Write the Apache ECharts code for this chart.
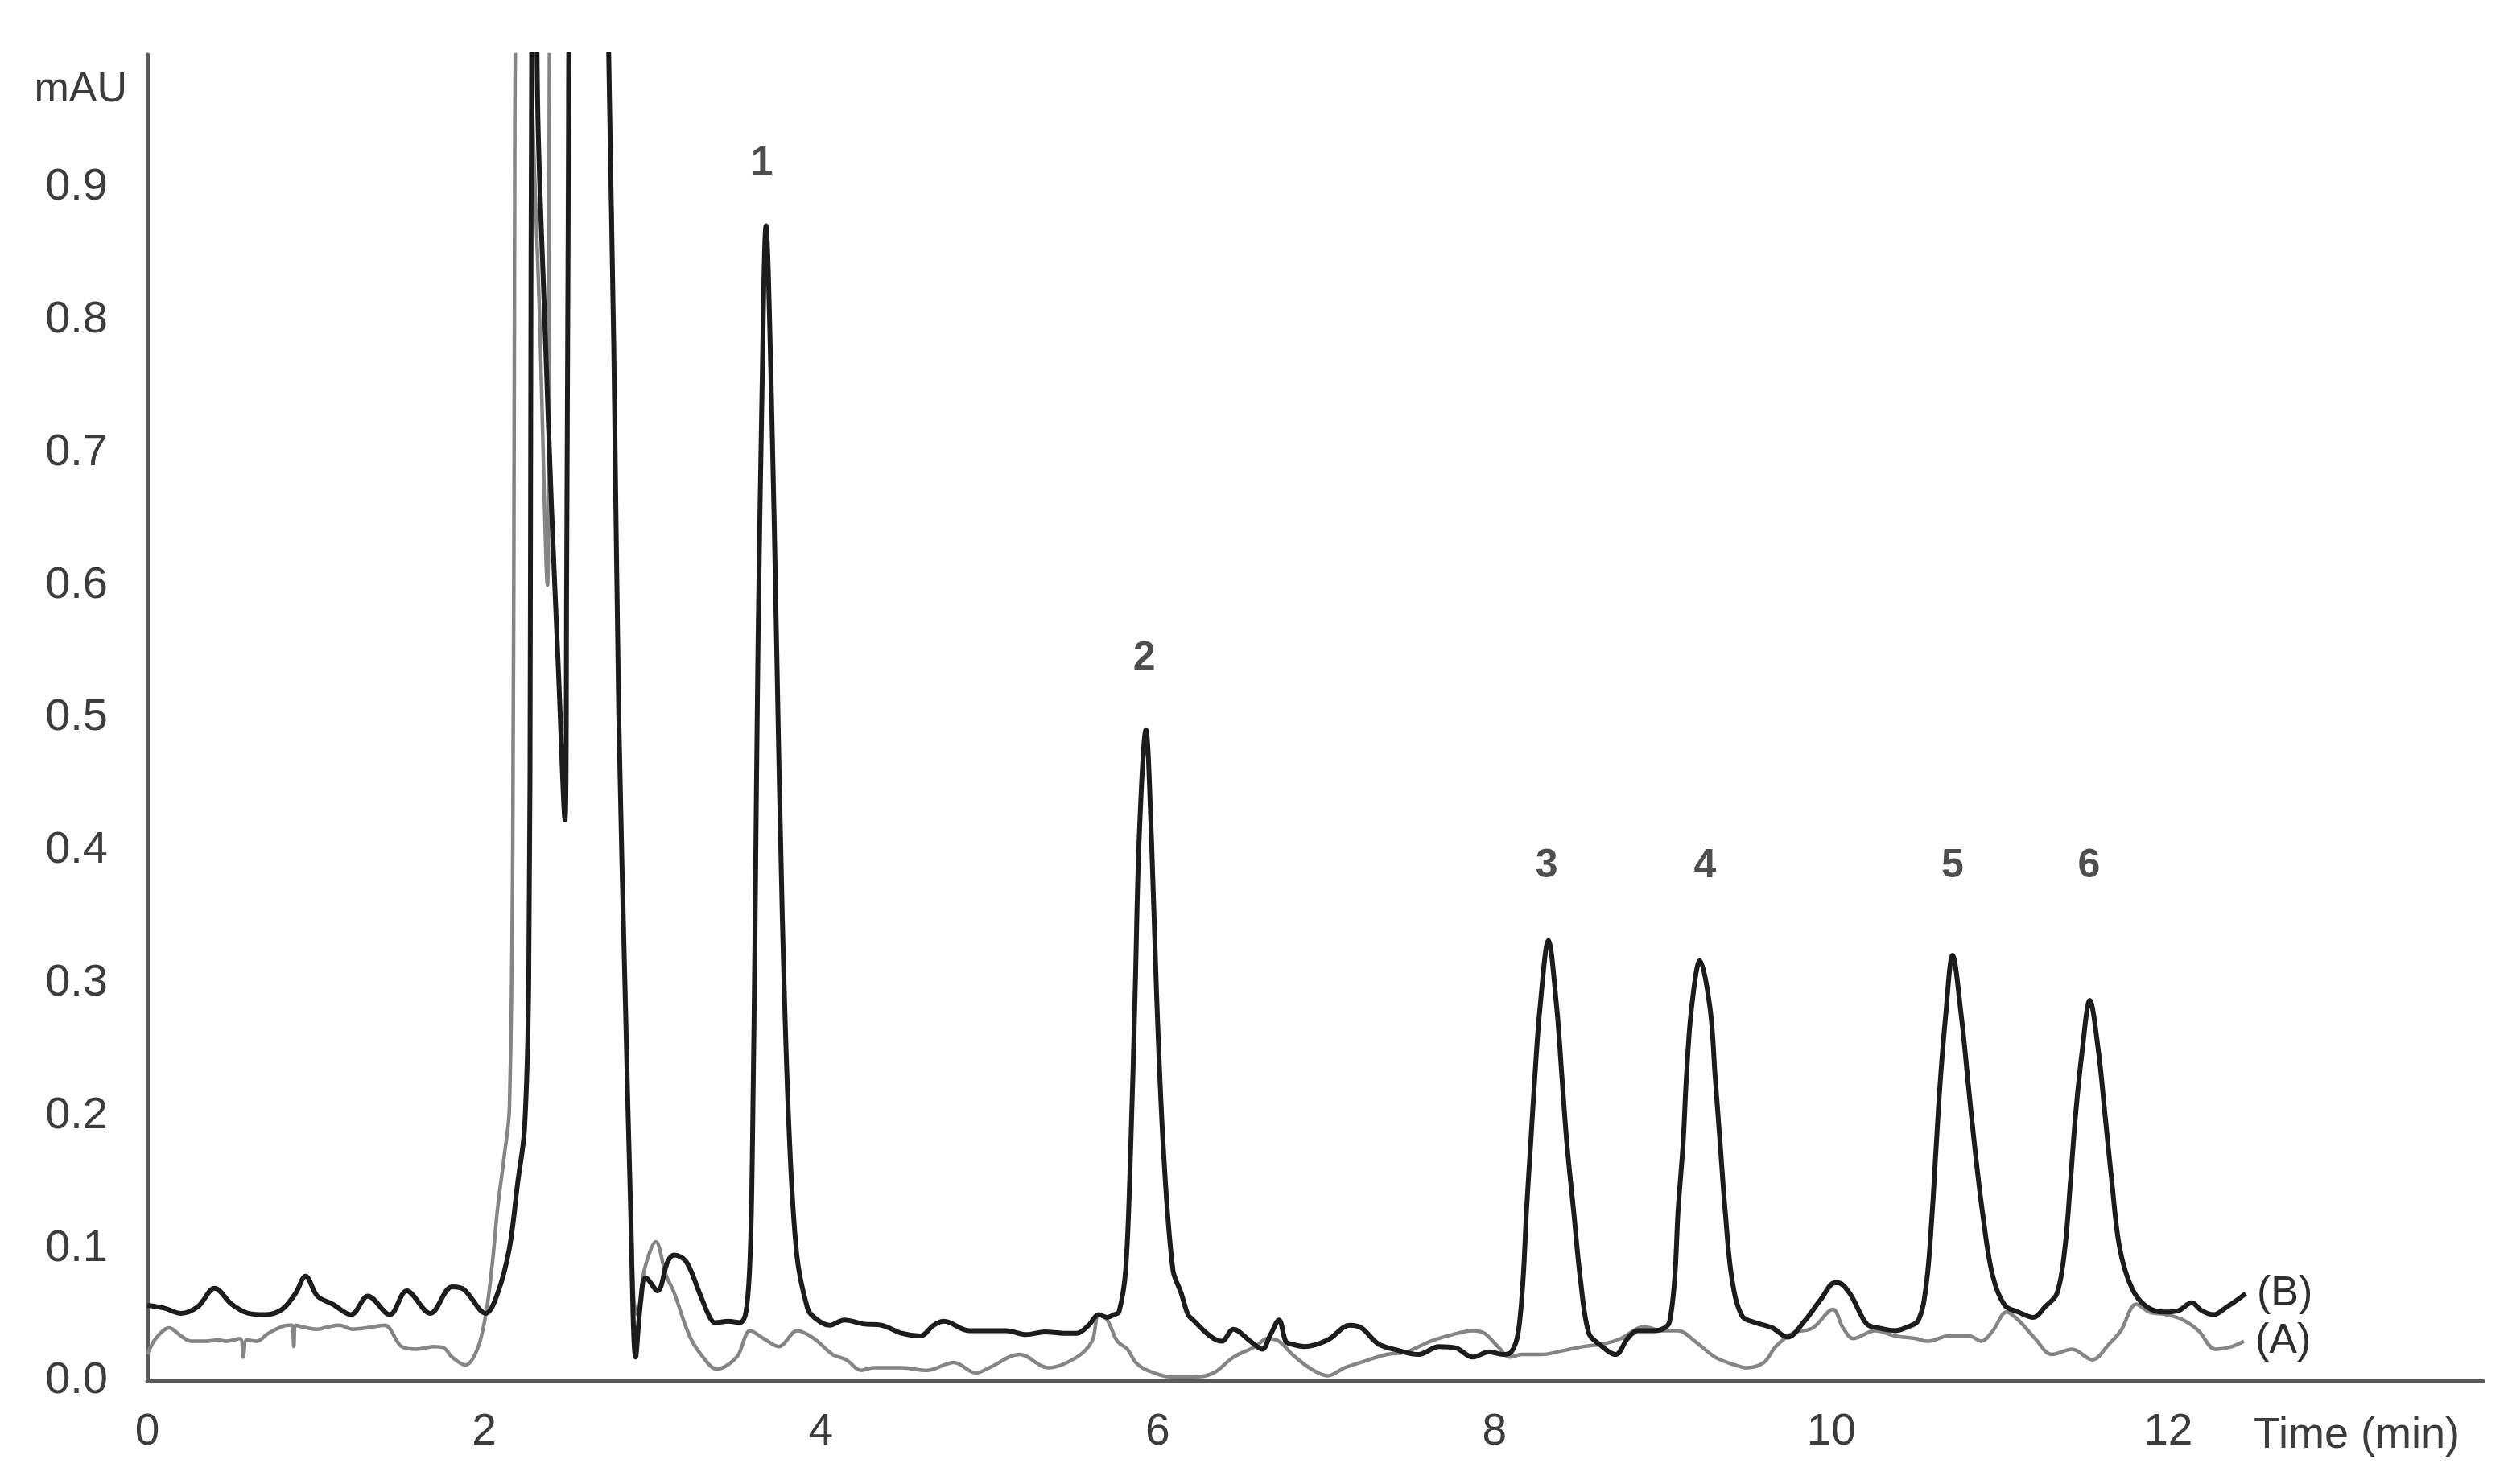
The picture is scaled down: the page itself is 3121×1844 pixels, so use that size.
<!DOCTYPE html>
<html>
<head>
<meta charset="utf-8">
<script src="https://cdn.jsdelivr.net/npm/echarts@6/dist/echarts.min.js"></script>
<style>
html,body{margin:0;padding:0;background:#fff;}
#chart{width:3121px;height:1844px;}
</style>
</head>
<body>
<div id="chart"></div>
<script>
// ---- Data (time in min, absorbance in mAU) ----
const seriesB_time = [0.00,0.10,0.20,0.30,0.40,0.50,0.60,0.70,0.80,0.88,0.94,1.01,1.10,1.21,1.31,1.44,1.54,1.68,1.81,1.88,2.01,2.08,2.15,2.20,2.24,2.265,2.275,2.285,2.30,2.32,2.36,2.40,2.44,2.48,2.49,2.50,2.51,2.60,2.72,2.74,2.77,2.80,2.84,2.87,2.90,2.93,2.96,3.03,3.09,3.13,3.20,3.28,3.34,3.37,3.45,3.52,3.555,3.58,3.595,3.61,3.626,3.65,3.674,3.706,3.738,3.77,3.81,3.857,3.92,3.96,4.05,4.14,4.25,4.36,4.48,4.59,4.67,4.73,4.88,5.00,5.10,5.22,5.33,5.44,5.52,5.59,5.65,5.70,5.74,5.77,5.81,5.84,5.866,5.89,5.93,5.963,5.993,6.033,6.09,6.14,6.18,6.21,6.31,6.38,6.45,6.55,6.62,6.67,6.72,6.76,6.79,6.87,7.01,7.14,7.21,7.31,7.43,7.55,7.67,7.77,7.87,7.97,8.05,8.10,8.14,8.17,8.19,8.215,8.24,8.27,8.32,8.37,8.40,8.43,8.47,8.51,8.56,8.62,8.72,8.79,8.85,8.95,9.01,9.04,9.07,9.09,9.12,9.14,9.17,9.22,9.28,9.31,9.34,9.37,9.41,9.47,9.55,9.65,9.74,9.84,9.94,10.02,10.04,10.11,10.21,10.28,10.38,10.44,10.518,10.566,10.598,10.622,10.646,10.678,10.72,10.773,10.813,10.853,10.90,10.957,11.03,11.11,11.20,11.27,11.34,11.387,11.42,11.45,11.49,11.535,11.586,11.626,11.666,11.713,11.785,11.873,11.98,12.06,12.14,12.20,12.27,12.35,12.42,12.46];
const seriesB_value = [0.057,0.055,0.051,0.056,0.070,0.058,0.051,0.050,0.054,0.066,0.079,0.064,0.058,0.050,0.064,0.050,0.068,0.051,0.071,0.069,0.051,0.066,0.100,0.150,0.190,0.300,0.600,1.100,1.150,0.950,0.800,0.660,0.540,0.423,0.600,0.900,1.100,1.500,1.200,1.000,0.780,0.500,0.280,0.130,0.018,0.060,0.078,0.068,0.090,0.095,0.090,0.066,0.048,0.044,0.045,0.044,0.052,0.095,0.192,0.354,0.549,0.744,0.871,0.744,0.549,0.354,0.192,0.095,0.055,0.048,0.042,0.046,0.043,0.042,0.036,0.034,0.042,0.045,0.038,0.038,0.038,0.035,0.037,0.036,0.036,0.042,0.050,0.048,0.050,0.052,0.084,0.177,0.293,0.409,0.491,0.409,0.293,0.177,0.084,0.066,0.050,0.046,0.034,0.030,0.039,0.030,0.024,0.035,0.046,0.030,0.028,0.026,0.031,0.042,0.040,0.028,0.023,0.020,0.026,0.025,0.018,0.022,0.020,0.022,0.036,0.077,0.128,0.179,0.230,0.281,0.332,0.281,0.230,0.179,0.128,0.077,0.036,0.028,0.020,0.032,0.038,0.038,0.040,0.045,0.077,0.128,0.179,0.230,0.281,0.317,0.281,0.230,0.179,0.128,0.077,0.049,0.044,0.040,0.033,0.045,0.062,0.074,0.074,0.066,0.043,0.040,0.038,0.040,0.046,0.075,0.125,0.175,0.224,0.274,0.321,0.274,0.224,0.175,0.125,0.080,0.057,0.052,0.048,0.056,0.066,0.100,0.150,0.200,0.249,0.287,0.249,0.200,0.150,0.100,0.070,0.056,0.052,0.053,0.059,0.053,0.050,0.056,0.062,0.066];

const seriesA_time = [0.00,0.05,0.13,0.20,0.26,0.35,0.42,0.47,0.55,0.57,0.59,0.65,0.72,0.80,0.84,0.86,0.87,0.88,0.95,1.01,1.08,1.14,1.22,1.30,1.41,1.51,1.60,1.70,1.76,1.81,1.89,1.96,2.01,2.05,2.08,2.12,2.15,2.17,2.18,2.19,2.25,2.28,2.33,2.376,2.385,2.39,2.60,2.70,2.74,2.77,2.80,2.84,2.87,2.89,2.91,2.95,3.02,3.08,3.13,3.22,3.30,3.38,3.50,3.58,3.66,3.75,3.86,3.96,4.07,4.15,4.24,4.31,4.40,4.48,4.63,4.79,4.92,5.00,5.18,5.35,5.52,5.61,5.65,5.70,5.76,5.82,5.87,5.94,6.09,6.21,6.33,6.45,6.58,6.65,6.72,6.80,6.90,7.01,7.11,7.23,7.36,7.48,7.62,7.75,7.87,7.94,8.02,8.09,8.16,8.28,8.41,8.53,8.65,8.75,8.89,8.99,9.09,9.19,9.31,9.43,9.50,9.60,9.67,9.77,9.89,10.01,10.07,10.13,10.26,10.38,10.50,10.57,10.70,10.82,10.89,10.96,11.04,11.11,11.21,11.31,11.43,11.55,11.65,11.72,11.81,11.89,11.99,12.09,12.18,12.28,12.38,12.45];
const seriesA_value = [0.020,0.032,0.040,0.034,0.030,0.030,0.031,0.030,0.032,0.018,0.031,0.030,0.036,0.041,0.042,0.042,0.026,0.042,0.040,0.039,0.041,0.042,0.039,0.040,0.042,0.026,0.024,0.026,0.025,0.018,0.012,0.024,0.050,0.090,0.130,0.170,0.205,0.400,0.800,1.100,1.400,1.000,0.800,0.600,0.800,1.100,1.500,1.200,1.000,0.780,0.500,0.280,0.130,0.060,0.050,0.083,0.105,0.080,0.066,0.034,0.018,0.009,0.018,0.038,0.032,0.026,0.038,0.032,0.020,0.016,0.008,0.010,0.010,0.010,0.008,0.014,0.006,0.010,0.020,0.010,0.018,0.030,0.050,0.046,0.030,0.024,0.014,0.008,0.003,0.003,0.006,0.018,0.026,0.032,0.030,0.020,0.010,0.004,0.010,0.015,0.020,0.022,0.030,0.035,0.038,0.036,0.026,0.018,0.020,0.020,0.023,0.026,0.028,0.032,0.041,0.038,0.038,0.030,0.018,0.012,0.010,0.014,0.026,0.036,0.040,0.054,0.040,0.032,0.038,0.034,0.032,0.030,0.034,0.034,0.030,0.038,0.052,0.046,0.032,0.020,0.024,0.016,0.028,0.038,0.058,0.052,0.050,0.046,0.038,0.024,0.026,0.030];

const peakNames = ['1','2','3','4','5','6'];
const peakLabelTime = [3.65,5.92,8.31,9.25,10.72,11.53];
const peakLabelValue = [0.918,0.545,0.388,0.388,0.388,0.388];

const yTickValues = [0.0,0.1,0.2,0.3,0.4,0.5,0.6,0.7,0.8,0.9];
const xTickValues = [0,2,4,6,8,10,12];

const FONT = "'Liberation Sans Narrow', 'Liberation Sans', Arial, sans-serif";

function pairs(t, v){ return t.map((x,i)=>[x, v[i]]); }

const chart = echarts.init(document.getElementById('chart'), null, {renderer:'canvas'});
chart.setOption({
  backgroundColor:'#ffffff',
  animation:false,
  grid:{left:183, right:36, top:68, bottom:128, containLabel:false},
  xAxis:{
    type:'value', min:0, max:13.87, interval:2,
    axisLine:{show:true, onZero:false, lineStyle:{color:'#5a5a5a', width:5}},
    axisTick:{show:false},
    splitLine:{show:false},
    axisLabel:{
      fontFamily:FONT, fontSize:55, color:'#3c3c3c', margin:36,
      showMaxLabel:false,
      formatter:function(v){
        const r = Math.round(v);
        return (Math.abs(v-r)<1e-6 && xTickValues.indexOf(r)>=0) ? String(r) : '';
      }
    }
  },
  yAxis:{
    type:'value', min:0, max:1.0, interval:0.1,
    axisLine:{show:true, lineStyle:{color:'#5a5a5a', width:5}},
    axisTick:{show:false},
    splitLine:{show:false},
    axisLabel:{
      fontFamily:FONT, fontSize:56, color:'#3c3c3c', margin:49,
      showMaxLabel:false,
      formatter:function(v){
        for (const t of yTickValues){ if (Math.abs(v-t)<1e-6) return t.toFixed(1); }
        return '';
      }
    }
  },
  graphic:[
    {type:'text', x:158, y:112, style:{text:'mAU', font:'52px '+FONT, fill:'#3c3c3c', textAlign:'right', textVerticalAlign:'middle'}},
    {type:'text', x:2800, y:1784, style:{text:'Time (min)', font:'54px '+FONT, fill:'#3c3c3c', textAlign:'left', textVerticalAlign:'middle'}}
  ],
  series:[
    {
      name:'A', type:'line', data:pairs(seriesA_time, seriesA_value),
      showSymbol:false, smooth:0.35, clip:true,
      lineStyle:{color:'#858585', width:4.5},
      endLabel:{show:true, formatter:'(A)', distance:14, fontFamily:FONT, fontSize:52, color:'#2e2e2e'},
      z:2
    },
    {
      name:'B', type:'line', data:pairs(seriesB_time, seriesB_value),
      showSymbol:false, smooth:0.35, clip:true,
      lineStyle:{color:'#1c1c1c', width:6},
      endLabel:{show:true, formatter:'(B)', distance:14, fontFamily:FONT, fontSize:52, color:'#2e2e2e'},
      z:3
    },
    {
      name:'peaks', type:'scatter', symbolSize:1, itemStyle:{color:'rgba(0,0,0,0)'},
      data:peakNames.map((n,i)=>({name:n, value:[peakLabelTime[i], peakLabelValue[i]]})),
      label:{show:true, position:'inside', formatter:'{b}', fontFamily:"'Liberation Sans', Arial, sans-serif", fontWeight:'bold', fontSize:50, color:'#222'},
      z:4
    }
  ]
});
</script>
</body>
</html>
